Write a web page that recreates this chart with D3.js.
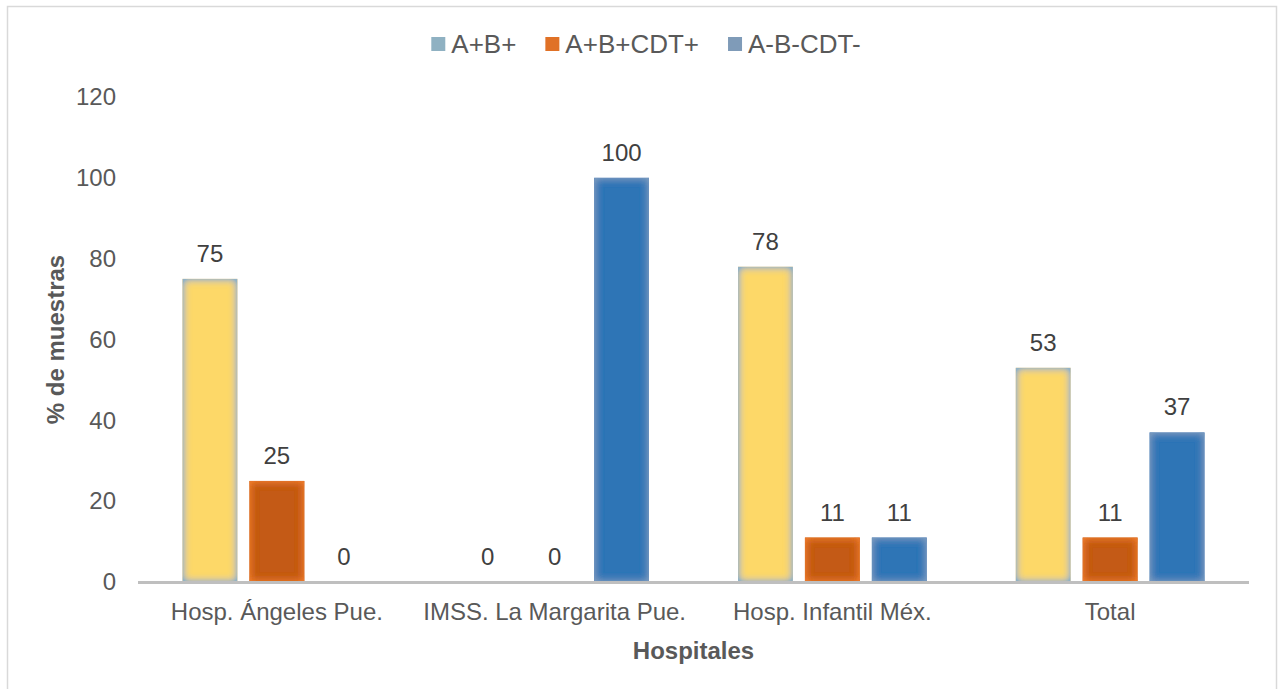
<!DOCTYPE html>
<html>
<head>
<meta charset="utf-8">
<script src="https://cdn.jsdelivr.net/npm/d3@7"></script>
<style>
  html, body { margin: 0; padding: 0; background: #ffffff; }
  svg { display: block; font-family: "Liberation Sans", Arial, sans-serif; }
</style>
</head>
<body>
<svg id="chart" width="1279" height="689"></svg>
<script>
// Hospitals on the x axis
const categories = ["Hosp. Ángeles Pue.", "IMSS. La Margarita Pue.", "Hosp. Infantil Méx.", "Total"];
// Series names
const seriesNames = ["A+B+", "A+B+CDT+", "A-B-CDT-"];
// % of samples per hospital, one array per series
const abPos = [75, 0, 78, 53];
const abCdtPos = [25, 0, 11, 11];
const abCdtNeg = [0, 100, 11, 37];
// Y axis ticks
const yTicks = [0, 20, 40, 60, 80, 100, 120];

const seriesValues = [abPos, abCdtPos, abCdtNeg];

// Bar styling: centre fill, soft inner edge colour, legend swatch colour
const styles = [
  { fill: "#fdd867", edge: "#93b2c4", swatch: "#8fb1c2" },
  { fill: "#c45a12", edge: "#e8772a", swatch: "#e07126" },
  { fill: "#2e74b6", edge: "#7396be", swatch: "#7f9bb8" }
];

const svg = d3.select("#chart");
const textColor = "#595959";

// Outer frame
svg.append("rect")
  .attr("x", 7.5).attr("y", 6.5)
  .attr("width", 1269).attr("height", 690)
  .attr("fill", "none").attr("stroke", "#d9d9d9").attr("stroke-width", 1.5);

const plot = { left: 138, right: 1249, top: 97, bottom: 582 };

const x0 = d3.scaleBand().domain(categories).range([plot.left, plot.right]);
const gw = x0.bandwidth();
const x1 = d3.scaleBand().domain(seriesNames).range([44.5, gw - 44.5]).paddingInner(0.18);
const y = d3.scaleLinear().domain([0, 120]).range([plot.bottom, plot.top]);

// Inner-glow filters, one per series
const defs = svg.append("defs");
styles.forEach((s, i) => {
  const f = defs.append("filter").attr("id", "glow" + i)
    .attr("x", "-50%").attr("y", "-50%").attr("width", "200%").attr("height", "200%");
  f.append("feFlood").attr("flood-color", s.edge).attr("result", "flood");
  f.append("feComposite").attr("in", "flood").attr("in2", "SourceAlpha").attr("operator", "out").attr("result", "outside");
  f.append("feGaussianBlur").attr("in", "outside").attr("stdDeviation", 4).attr("result", "blurred");
  const ct = f.append("feComponentTransfer").attr("in", "blurred").attr("result", "strong");
  ct.append("feFuncA").attr("type", "linear").attr("slope", 1.7).attr("intercept", 0);
  f.append("feComposite").attr("in", "strong").attr("in2", "SourceAlpha").attr("operator", "in").attr("result", "inner");
  const m = f.append("feMerge");
  m.append("feMergeNode").attr("in", "SourceGraphic");
  m.append("feMergeNode").attr("in", "inner");
});

// Y tick labels (no gridlines)
const yAxis = svg.append("g")
  .attr("transform", `translate(${plot.left},0)`)
  .call(d3.axisLeft(y).tickValues(yTicks).tickSize(0).tickPadding(22));
yAxis.select(".domain").remove();
yAxis.selectAll("text")
  .attr("fill", textColor).style("font-size", "24px")
  .style("font-family", "'Liberation Sans', Arial, sans-serif");

// Bars and value labels
const groups = svg.append("g").selectAll("g")
  .data(categories)
  .join("g")
  .attr("transform", d => `translate(${x0(d)},0)`);

groups.each(function (cat, ci) {
  const g = d3.select(this);
  seriesNames.forEach((sn, si) => {
    const v = seriesValues[si][ci];
    if (v > 0) {
      g.append("rect")
        .attr("x", x1(sn))
        .attr("y", y(v))
        .attr("width", x1.bandwidth())
        .attr("height", y(0) - y(v))
        .attr("fill", styles[si].fill)
        .attr("filter", `url(#glow${si})`);
    }
    g.append("text")
      .attr("x", x1(sn) + x1.bandwidth() / 2)
      .attr("y", y(v) - 17)
      .attr("text-anchor", "middle")
      .attr("fill", "#404040")
      .style("font-size", "24px")
      .text(v);
  });
});

// X axis baseline
svg.append("line")
  .attr("x1", plot.left).attr("x2", plot.right)
  .attr("y1", y(0) + 0.5).attr("y2", y(0) + 0.5)
  .attr("stroke", "#bfbfbf").attr("stroke-width", 3);

// Category labels
svg.append("g").selectAll("text")
  .data(categories)
  .join("text")
  .attr("x", d => x0(d) + gw / 2)
  .attr("y", 620)
  .attr("text-anchor", "middle")
  .attr("fill", textColor)
  .style("font-size", "24px")
  .text(d => d);

// Axis titles
svg.append("text")
  .attr("x", (plot.left + plot.right) / 2)
  .attr("y", 659)
  .attr("text-anchor", "middle")
  .attr("fill", textColor)
  .style("font-size", "24px").style("font-weight", "bold")
  .text("Hospitales");

svg.append("text")
  .attr("transform", `translate(64,${(plot.top + plot.bottom) / 2}) rotate(-90)`)
  .attr("text-anchor", "middle")
  .attr("fill", textColor)
  .style("font-size", "24px").style("font-weight", "bold")
  .text("% de muestras");

// Legend
const legend = svg.append("g");
let lx = 0;
seriesNames.forEach((sn, i) => {
  const item = legend.append("g").attr("transform", `translate(${lx},0)`);
  item.append("rect")
    .attr("x", 0).attr("y", 37).attr("width", 14).attr("height", 14)
    .attr("fill", styles[i].swatch);
  const t = item.append("text")
    .attr("x", 20).attr("y", 53)
    .attr("fill", textColor)
    .style("font-size", "26px")
    .text(sn);
  lx += 20 + t.node().getComputedTextLength() + 29;
});
const legendWidth = lx - 29;
legend.attr("transform", `translate(${646 - legendWidth / 2},0)`);
</script>
</body>
</html>
